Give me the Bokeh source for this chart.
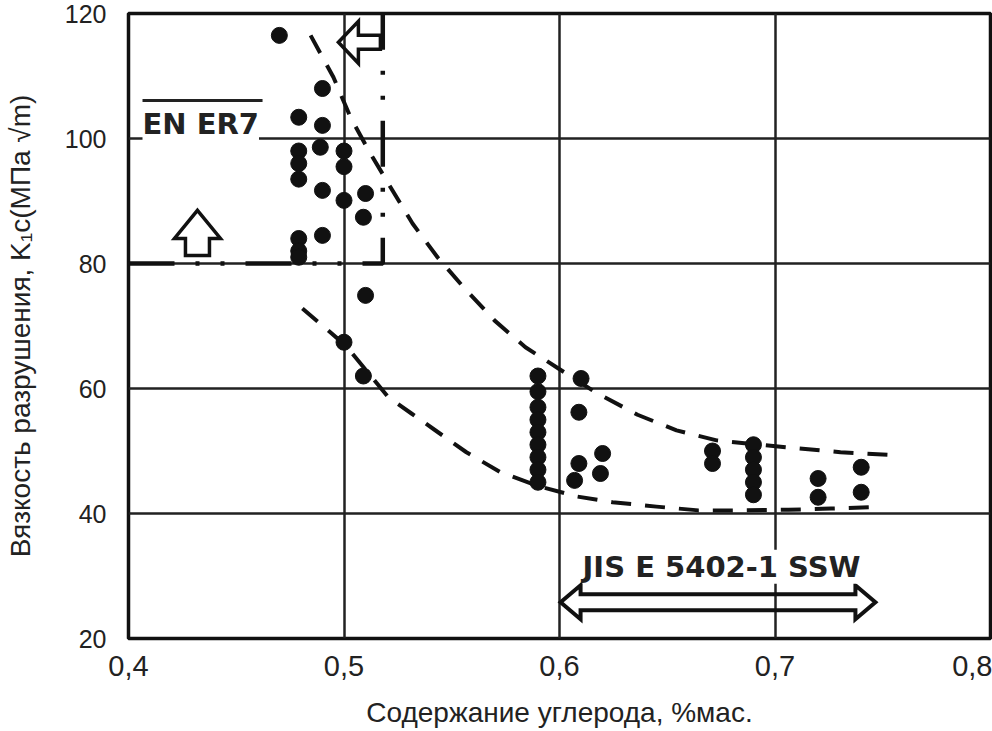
import numpy as np
from bokeh.plotting import figure
from bokeh.models import Range1d, Label, FixedTicker
from bokeh.embed import file_html
from bokeh.resources import INLINE

# ---------------- data ----------------
carbon = [0.470, 0.490, 0.479, 0.490, 0.489, 0.500, 0.500, 0.479, 0.479, 0.479,
          0.490, 0.500, 0.510, 0.509, 0.490, 0.479, 0.479, 0.479, 0.510, 0.500, 0.509,
          0.590, 0.590, 0.590, 0.590, 0.590, 0.590, 0.590, 0.590, 0.590,
          0.610, 0.609, 0.609, 0.607, 0.620, 0.619,
          0.671, 0.671,
          0.690, 0.690, 0.690, 0.690, 0.690,
          0.720, 0.720, 0.740, 0.740]
k1c = [116.5, 108.0, 103.4, 102.1, 98.6, 98.0, 95.5, 98.0, 96.0, 93.5,
       91.7, 90.1, 91.2, 87.4, 84.5, 84.0, 82.0, 81.0, 74.9, 67.4, 62.0,
       62.0, 59.5, 57.0, 55.0, 53.0, 51.0, 49.0, 47.0, 45.0,
       61.6, 56.2, 48.0, 45.3, 49.6, 46.4,
       50.0, 48.0,
       51.0, 49.0, 47.0, 45.0, 43.0,
       45.6, 42.6, 47.4, 43.4]

# upper and lower dashed envelopes
upper_x = [0.4845, 0.4951, 0.5030, 0.5114, 0.5216, 0.5318, 0.5434, 0.5555, 0.5698,
           0.5842, 0.5995, 0.6167, 0.6362, 0.6543, 0.6729, 0.7049, 0.7304, 0.7522]
upper_y = [116.5, 109.8, 103.4, 98.1, 92.2, 86.4, 81.0, 76.2, 70.9,
           66.6, 63.2, 59.4, 55.8, 53.3, 51.7, 50.6, 49.8, 49.4]
lower_x = [0.4807, 0.5007, 0.5206, 0.5313, 0.5420, 0.5568, 0.5726, 0.5900,
           0.6084, 0.6246, 0.6450, 0.6645, 0.6849, 0.7063, 0.7260, 0.7452]
lower_y = [72.8, 66.9, 58.6, 56.0, 53.4, 49.8, 46.6, 44.4,
           42.7, 41.8, 41.1, 40.5, 40.5, 40.6, 40.8, 41.0]

# EN ER7 requirement boundary (min K1c 80, max carbon ~0.52)
en_x = [0.40, 0.518, 0.518]
en_y = [80, 80, 120]

x_ticks = [0.4, 0.5, 0.6, 0.7, 0.8]
x_tick_labels = ["0,4", "0,5", "0,6", "0,7", "0,8"]
y_ticks = [20, 40, 60, 80, 100, 120]

X0, X1, Y0, Y1 = 0.4, 0.8, 20, 120
FW, FH = 862, 625
sx = (X1 - X0) / FW   # data per px
sy = (Y1 - Y0) / FH

FONT = "Liberation Sans"

p = figure(width=992, height=731, x_range=Range1d(X0, X1), y_range=Range1d(Y0, Y1),
           output_backend="svg", toolbar_location=None,
           min_border_left=128, min_border_right=2, min_border_top=13, min_border_bottom=93)
p.background_fill_color = "white"
p.border_fill_color = "white"
p.outline_line_color = "#111111"
p.outline_line_width = 3.5

p.xaxis.ticker = FixedTicker(ticks=x_ticks)
p.xaxis.major_label_overrides = dict(zip(x_ticks, x_tick_labels))
p.yaxis.ticker = FixedTicker(ticks=y_ticks)
for ax in (p.xaxis[0], p.yaxis[0]):
    ax.axis_line_color = None
    ax.major_tick_line_color = None
    ax.minor_tick_line_color = None
    ax.major_label_text_font = FONT
    ax.major_label_text_color = "#222222"
    ax.axis_label_text_font = FONT
    ax.axis_label_text_font_style = "normal"
    ax.axis_label_text_color = "#222222"
p.xaxis.major_label_text_font_size = "29px"
p.yaxis.major_label_text_font_size = "25px"
p.xaxis.major_label_standoff = 11
p.yaxis.major_label_standoff = 16
p.xaxis.axis_label = "Содержание углерода, %мас."
p.yaxis.axis_label = "Вязкость разрушения, K₁c(МПа √m)"
p.xaxis.axis_label_text_font_size = "28px"
p.yaxis.axis_label_text_font_size = "28px"
p.xaxis.axis_label_standoff = 18
p.yaxis.axis_label_standoff = 26

p.xgrid.ticker = FixedTicker(ticks=[0.5, 0.6, 0.7])
p.ygrid.ticker = FixedTicker(ticks=[40, 60, 80, 100])
for g in (p.xgrid[0], p.ygrid[0]):
    g.grid_line_color = "#222222"
    g.grid_line_width = 2.5

# dashed envelope curves
p.line(upper_x, upper_y, line_color="#111111", line_width=4, line_dash="20 14", line_join="round")
p.line(lower_x, lower_y, line_color="#111111", line_width=4, line_dash="20 14", line_join="round")

# EN ER7 dash-dot boundary
p.line(en_x, en_y, line_color="#111111", line_width=4.5, line_dash="46 21 4 21 4 21")

# data points
p.scatter(carbon, k1c, size=16, color="#111111")

# hollow arrows (shape in px, anchored at tip in data units)
def shape(tip, pts):
    tx, ty = tip
    return [tx + dx * sx for dx, dy in pts], [ty - dy * sy for dx, dy in pts]

up_tip = (0.432, 88.5)
up_pts = [(0, 0), (23, 28), (12, 28), (12, 45), (-12, 45), (-12, 28), (-23, 28)]
ux, uy = shape(up_tip, up_pts)
p.patch(ux, uy, fill_color=None, line_color="#111111", line_width=3.5, line_join="miter")

left_tip = (0.4974, 115.4)
left_pts = [(0, 0), (20, -21), (20, -7), (42, -7), (42, 7), (20, 7), (20, 21)]
lx, ly = shape(left_tip, left_pts)
p.patch(lx, ly, fill_color=None, line_color="#111111", line_width=3.5, line_join="miter")

jis_left, jis_right, jis_y = 0.6005, 0.7466, 25.8
L = (jis_right - jis_left) / sx
jis_pts = [(0, 0), (20, -17), (20, -8), (L - 20, -8), (L - 20, -17), (L, 0),
           (L - 20, 17), (L - 20, 8), (20, 8), (20, 17)]
jx, jy = shape((jis_left, jis_y), jis_pts)
p.patch(jx, jy, fill_color=None, line_color="#111111", line_width=4, line_join="miter")

# labels
en_label = Label(x=0.4065, y=102.3, text="EN ER7", text_font="DejaVu Sans",
                 text_font_style="bold", text_font_size="29px", text_color="#222222",
                 text_align="left", text_baseline="middle",
                 background_fill_color="white", background_fill_alpha=1.0)
p.add_layout(en_label)
p.line([0.4065, 0.4622], [106.1, 106.1], line_color="#222222", line_width=3)

jis_label = Label(x=0.6752, y=31.5, text="JIS E 5402-1 SSW", text_font="DejaVu Sans",
                  text_font_style="bold", text_font_size="29px", text_color="#222222",
                  text_align="center", text_baseline="middle",
                  background_fill_color="white", background_fill_alpha=1.0)
p.add_layout(jis_label)

open("out.html", "w").write(file_html(p, INLINE))
